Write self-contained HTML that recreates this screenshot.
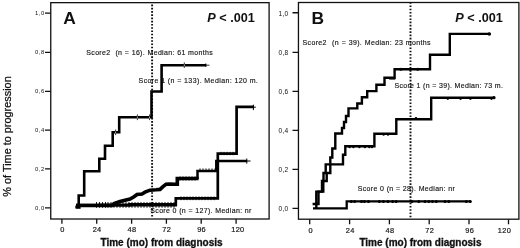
<!DOCTYPE html>
<html><head><meta charset="utf-8"><style>
html,body{margin:0;padding:0;background:#fff;}
body{width:520px;height:248px;overflow:hidden;}
svg{display:block;filter:grayscale(1);}
text{font-family:"Liberation Sans",sans-serif;fill:#111;}
</style></head><body>
<svg width="520" height="248" viewBox="0 0 520 248">
<rect x="0" y="0" width="520" height="248" fill="#fff"/>
<!-- y axis label -->
<text transform="translate(10.9,136.5) rotate(-90)" text-anchor="middle" font-size="10.9" stroke="#111" stroke-width="0.25">% of Time to progression</text>

<!-- ===== Panel A ===== -->
<g fill="none" stroke="#111" stroke-width="1.3">
<rect x="50.75" y="2.65" width="218.35" height="216.35"/>
<path d="M45 207.8H50.7M45 168.8H50.7M45 130.2H50.7M45 91.3H50.7M45 52.3H50.7M45 13.05H50.7"/>
<path d="M61.9 219V223.8M96.7 219V223.8M131.6 219V223.8M166.4 219V223.8M201.2 219V223.8M236.1 219V223.8"/>
</g>
<g font-size="5.9" letter-spacing="0.45" text-anchor="end" style="fill:#222">
<text x="44.65" y="15.15">1,0</text>
<text x="44.65" y="54.40">0,8</text>
<text x="44.65" y="93.40">0,6</text>
<text x="44.65" y="132.30">0,4</text>
<text x="44.65" y="170.90">0,2</text>
<text x="44.65" y="209.90">0,0</text>
</g>
<g font-size="7.4" letter-spacing="0.3" text-anchor="middle" stroke="#222" stroke-width="0.2">
<text x="62.35" y="231.6">0</text>
<text x="97.05" y="231.6">24</text>
<text x="131.95" y="231.6">48</text>
<text x="166.75" y="231.6">72</text>
<text x="201.55" y="231.6">96</text>
<text x="237.85" y="231.6">120</text>
</g>
<text x="100.5" y="246" font-size="10" font-weight="bold" stroke="#111" stroke-width="0.3">Time (mo) from diagnosis</text>
<text x="63.2" y="23.7" font-size="17.4" font-weight="bold">A</text>
<text x="207.3" y="22" font-size="12.7" font-weight="bold"><tspan font-style="italic">P</tspan> &lt; .001</text>

<!-- ===== Panel B ===== -->
<g fill="none" stroke="#111" stroke-width="1.3">
<rect x="298.45" y="2.5" width="220.45" height="216.7"/>
<path d="M292.5 208.45H298.5M292.5 169.4H298.5M292.5 130.4H298.5M292.5 91.4H298.5M292.5 52.35H298.5M292.5 12.75H298.5"/>
<path d="M309.7 219.2V224.3M349.6 219.2V224.3M389.4 219.2V224.3M429.2 219.2V224.3M469 219.2V224.3M508.5 219.2V224.3"/>
</g>
<g font-size="6.6" text-anchor="end" letter-spacing="0.3" style="fill:#333">
<text x="288.5" y="15.55">1,0</text>
<text x="288.5" y="55.15">0,8</text>
<text x="288.5" y="94.20">0,6</text>
<text x="288.5" y="133.20">0,4</text>
<text x="288.5" y="172.20">0,2</text>
<text x="288.5" y="211.25">0,0</text>
</g>
<g font-size="7.4" letter-spacing="0.3" text-anchor="middle" stroke="#222" stroke-width="0.2">
<text x="310.65" y="232.6">0</text>
<text x="350.15" y="232.6">24</text>
<text x="389.95" y="232.6">48</text>
<text x="429.75" y="232.6">72</text>
<text x="469.65" y="232.6">96</text>
<text x="504.45" y="232.6">120</text>
</g>
<text x="359.4" y="246" font-size="10" font-weight="bold" stroke="#111" stroke-width="0.3">Time (mo) from diagnosis</text>
<text x="311.6" y="23.9" font-size="17.4" font-weight="bold">B</text>
<text x="455.3" y="22.1" font-size="12.7" font-weight="bold"><tspan font-style="italic">P</tspan> &lt; .001</text>

<!-- panel A labels -->
<g font-size="7" letter-spacing="0.33" style="white-space:pre" stroke="#222" stroke-width="0.15">
<text x="86.3" y="55.4" word-spacing="0.2">Score2&#160; (n = 16). Median: 61 months</text>
<text x="138.6" y="82.9" word-spacing="0" letter-spacing="0.4">Score 1 (n = 133). Median: 120 m.</text>
<text x="150.3" y="212.6" word-spacing="0.1">Score 0 (n = 127). Median: nr</text>
</g>
<!-- panel A dotted median line -->
<path d="M152.1 4.6V218" stroke="#111" stroke-width="1.9" stroke-dasharray="1.6 1.635" fill="none"/>
<!-- panel A curves -->
<g fill="none" stroke="#000" stroke-linejoin="miter" stroke-linecap="butt">
<path stroke-width="3.6" d="M76 205.5 H112 L114 203.5 L120 201.5 L125 200.2 L130 199.1 L134 196.8 L137 194.5 L142 194 L145 192.2 L150 190.2 L156 189.8 L160 189.4 L163 186.6 L166 184.3 L170 184 L175 184.2 H177.3 V178.5 H198.6"/>
<path stroke-width="2.5" d="M197.5 179 V171 H216.3 V161 H247"/>
<path stroke-width="3.4" d="M76 205.4 H100 V205.1 H130 V204.8 H176.9"/>
<path stroke-width="2.7" d="M175.8 206 V198.3 H217.8 V153.6 H236.6 V106.8 H253.5"/>
<path stroke-width="0.9" d="M96.5 202V207.8M99.5 202V207.8M102.5 202V207.8M105.5 202V207.8M108.0 202V207.8M111.0 202V207.8M114.0 202V207.8M117.0 202V207.8M120.0 202V207.8M123.0 202V207.8M126.0 202V207.8M129.0 202V207.8M132.0 202V207.8M135.0 202V207.8M138.0 202V207.8M141.0 202V207.8M144.0 202V207.8M147.0 202V207.8M150.0 202V207.8M153.0 202V207.8M156.0 202V207.8M159.0 202V207.8M162.0 202V207.8M165.0 202V207.8M168.0 202V207.8M171.0 202V207.8M174.0 202V207.8M181.0 196.4V200.2M184.0 196.4V200.2M187.0 196.4V200.2M190.0 196.4V200.2M193.0 196.4V200.2M196.0 196.4V200.2M199.0 196.4V200.2M202.0 196.4V200.2M205.0 196.4V200.2M208.0 196.4V200.2M211.0 196.4V200.2M214.0 196.4V200.2M180.0 176.4V180.6M183.0 176.4V180.6M186.0 176.4V180.6M189.0 176.4V180.6M192.0 176.4V180.6M195.0 176.4V180.6M200.0 168.4V171M203.0 168.4V171M206.0 168.4V171M209.0 168.4V171M212.0 168.4V171M215.0 168.4V171M221.0 151.8V155.2M224.0 151.8V155.2M227.0 151.8V155.2M230.0 151.8V155.2M233.0 151.8V155.2"/>
<path stroke-width="1" d="M246.8 158.5V163.6M246 161H250.5M253.4 104.7V110.1M253 107.2H255.8"/>
<path stroke-width="2.6" d="M75.5 206.8 H78.7 V195.5 H84.2 V171.3 H99.3 V158.7 H105 V145.7 H112.7 V132.3 H119.2 V117.3 H151.5 V91.5 H161.6 V65.2 H206.3"/>
<path stroke-width="0.8" d="M205.8 63.4V67M206 65.2H209.5"/>
<rect x="75.6" y="206" width="5" height="2.8" fill="#000" stroke="none"/>
</g>
<g fill="none" stroke="#fff" stroke-width="0.7">
<path d="M115.6 131.4V133.2M137.4 116.4V118.2M149.5 116.4V118.2M184.3 64.3V66.1"/>
</g>
<g fill="none" stroke="#000" stroke-width="0.8">
<path d="M115.6 129.5V131.2M115.6 133.4V135.1M137.4 114.5V116.2M137.4 118.4V120.1M149.5 114.5V116.2M149.5 118.4V120.1M184.3 62.4V64.1M184.3 66.3V68"/>
</g>
<!-- panel B labels -->
<g font-size="7" letter-spacing="0.33" style="white-space:pre" stroke="#222" stroke-width="0.15">
<text x="302.6" y="44.6" word-spacing="0.4">Score2&#160; (n = 39). Median: 23 months</text>
<text x="394.4" y="88.4">Score 1 (n = 39). Median: 73 m.</text>
<text x="357.7" y="191.3" word-spacing="0.15">Score 0 (n = 28). Median: nr</text>
</g>
<path d="M410.5 2.2V218" stroke="#111" stroke-width="1.9" stroke-dasharray="1.6 1.635" fill="none"/>
<g fill="none" stroke="#000" stroke-linejoin="miter">
<path stroke-width="2.3" d="M313 208.4 H346.7 V201.4 H471"/>
<path stroke-width="2.4" d="M316.3 208.4 V191.6 H322 V181 H323.5 V173 H325.7 V164.4 H343 V154.7 H345.3 V146.3 H374.4 V133.8 H396.3 V119.2 H431.2 V97.7 H494.4"/>
<path stroke-width="2.4" d="M312.6 204 H318.5 V191.6 H323.3 V181 H326.7 V173 H330.3 V157.5 H332.3 V148.5 H335.3 V133.5 H342 V128 H344 V122 H346 V116 H348.5 V108.4 H357.3 V103.5 H361.9 V97.3 H367.2 V91.1 H376.4 V84.8 H384.5 V77.8 H394.6 V69.3 H430 V54.8 H449.8 V33.9 H489.5"/>
</g>

<g fill="#000">
<circle cx="351.2" cy="201.4" r="1.5"/><circle cx="354.6" cy="201.4" r="1.5"/><circle cx="361.5" cy="201.4" r="1.5"/><circle cx="364.4" cy="201.4" r="1.5"/><circle cx="368.5" cy="201.4" r="1.5"/><circle cx="379.4" cy="201.4" r="1.5"/><circle cx="383.4" cy="201.4" r="1.5"/><circle cx="388" cy="201.4" r="1.5"/><circle cx="392.7" cy="201.4" r="1.5"/><circle cx="396.1" cy="201.4" r="1.5"/><circle cx="411.9" cy="201.4" r="1.5"/><circle cx="418.8" cy="201.4" r="1.5"/><circle cx="425" cy="201.4" r="1.5"/><circle cx="428.8" cy="201.4" r="1.5"/><circle cx="432.5" cy="201.4" r="1.5"/><circle cx="436.3" cy="201.4" r="1.5"/><circle cx="445" cy="201.4" r="1.5"/><circle cx="448.8" cy="201.4" r="1.5"/><circle cx="466.3" cy="201.4" r="1.5"/><circle cx="470.3" cy="201.4" r="1.5"/>
<circle cx="349.6" cy="147" r="1.2"/><circle cx="353.4" cy="147" r="1.2"/><circle cx="359.4" cy="147" r="1.2"/><circle cx="364.9" cy="147" r="1.2"/><circle cx="369.3" cy="147" r="1.2"/><circle cx="372" cy="147" r="1.2"/>
<circle cx="383.6" cy="134.6" r="1.2"/><circle cx="388" cy="134.6" r="1.2"/>
<circle cx="416" cy="118.3" r="1.3"/>
<circle cx="447.8" cy="98.6" r="1.3"/><circle cx="460.5" cy="98.6" r="1.3"/><circle cx="470.4" cy="98.6" r="1.3"/><circle cx="491.5" cy="98.6" r="1.3"/>
<circle cx="494" cy="97.7" r="1.6"/>
<circle cx="400.9" cy="69.3" r="1.5"/><circle cx="410.2" cy="69.3" r="1.5"/><circle cx="417.7" cy="69.3" r="1.5"/>
<circle cx="489.3" cy="34" r="1.8"/>
</g>
<path d="M389.2 79.4H395.3" stroke="#444" stroke-width="0.9"/>
</svg>
</body></html>
